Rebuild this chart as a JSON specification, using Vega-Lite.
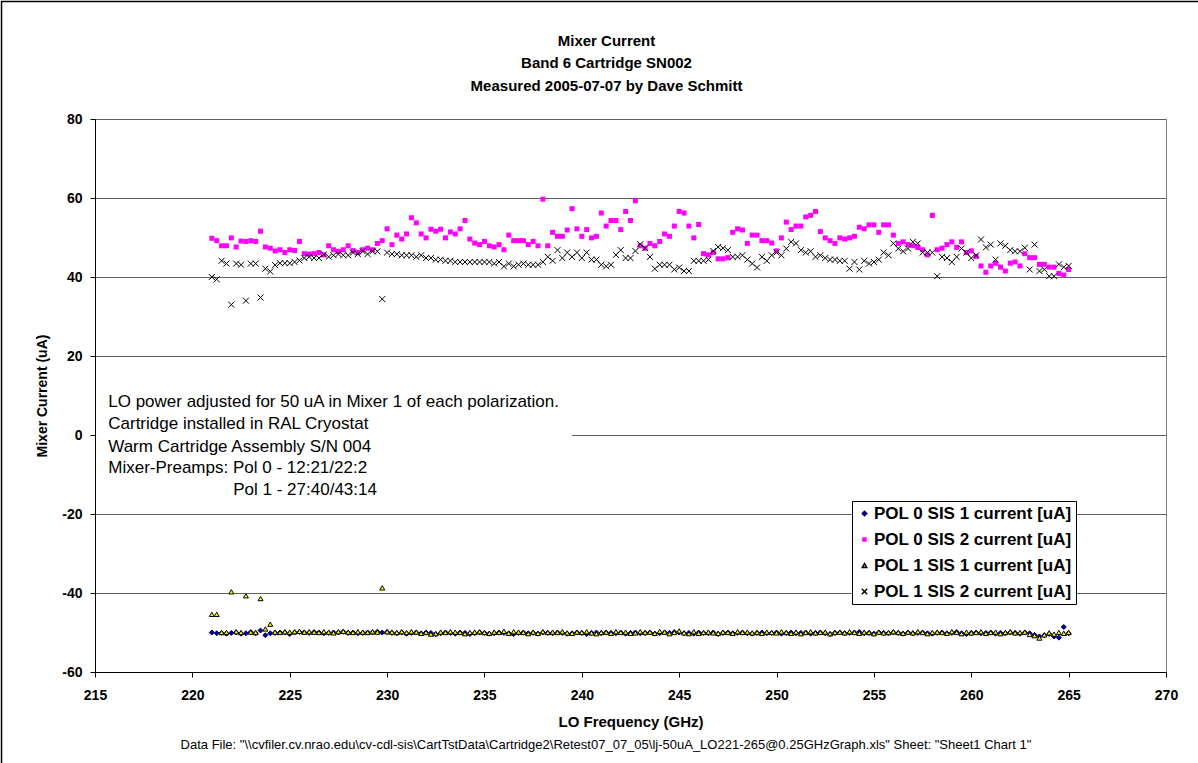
{
"$schema": "https://vega.github.io/schema/vega-lite/v6.json",
"width": 1071,
"height": 553,
"autosize": {"type": "none"},
"padding": {"left": 95, "top": 119, "right": 32, "bottom": 91},
"background": "white",
"config": {"font": "Liberation Sans", "view": {"stroke": "#808080", "strokeWidth": 1}},
"title": {"text": ["Mixer Current", "Band 6 Cartridge SN002", "Measured 2005-07-07 by Dave Schmitt"], "fontSize": 15, "fontWeight": "bold", "lineHeight": 22.5, "anchor": "middle", "frame": "group", "dx": -24, "offset": -93, "color": "black", "font": "Liberation Sans"},
"layer": [
{
"data": {"values": [{}]},
"mark": {"type": "rect", "fill": "white"},
"encoding": {"x": {"datum": 215.06}, "x2": {"datum": 239.5}, "y": {"datum": 12}, "y2": {"datum": -16}}
},
{
"data": {"values": [
{"s":"P0S1","f":221,"v":-50.0},{"s":"P0S1","f":221.25,"v":-50.2},{"s":"P0S1","f":221.5,"v":-50.1},{"s":"P0S1","f":221.75,"v":-50.3},{"s":"P0S1","f":222,"v":-50.1},{"s":"P0S1","f":222.25,"v":-50.0},{"s":"P0S1","f":222.5,"v":-50.3},{"s":"P0S1","f":222.75,"v":-50.2},{"s":"P0S1","f":223,"v":-49.9},{"s":"P0S1","f":223.25,"v":-50.2},
{"s":"P0S1","f":223.5,"v":-49.5},{"s":"P0S1","f":223.75,"v":-50.7},{"s":"P0S1","f":224,"v":-50.2},{"s":"P0S1","f":224.25,"v":-50.1},{"s":"P0S1","f":224.5,"v":-50.0},{"s":"P0S1","f":224.75,"v":-50.0},{"s":"P0S1","f":225,"v":-50.4},{"s":"P0S1","f":225.25,"v":-50.0},{"s":"P0S1","f":225.5,"v":-49.9},{"s":"P0S1","f":225.75,"v":-50.0},
{"s":"P0S1","f":226,"v":-50.1},{"s":"P0S1","f":226.25,"v":-49.9},{"s":"P0S1","f":226.5,"v":-50.0},{"s":"P0S1","f":226.75,"v":-50.2},{"s":"P0S1","f":227,"v":-50.1},{"s":"P0S1","f":227.25,"v":-50.0},{"s":"P0S1","f":227.5,"v":-50.0},{"s":"P0S1","f":227.75,"v":-49.8},{"s":"P0S1","f":228,"v":-50.1},{"s":"P0S1","f":228.25,"v":-50.0},
{"s":"P0S1","f":228.5,"v":-50.2},{"s":"P0S1","f":228.75,"v":-50.1},{"s":"P0S1","f":229,"v":-50.0},{"s":"P0S1","f":229.25,"v":-50.0},{"s":"P0S1","f":229.5,"v":-49.8},{"s":"P0S1","f":229.75,"v":-50.0},{"s":"P0S1","f":230,"v":-49.9},{"s":"P0S1","f":230.25,"v":-50.1},{"s":"P0S1","f":230.5,"v":-50.2},{"s":"P0S1","f":230.75,"v":-50.0},
{"s":"P0S1","f":231,"v":-50.3},{"s":"P0S1","f":231.25,"v":-50.1},{"s":"P0S1","f":231.5,"v":-50.0},{"s":"P0S1","f":231.75,"v":-50.2},{"s":"P0S1","f":232,"v":-50.0},{"s":"P0S1","f":232.25,"v":-50.1},{"s":"P0S1","f":232.5,"v":-50.4},{"s":"P0S1","f":232.75,"v":-50.2},{"s":"P0S1","f":233,"v":-50.0},{"s":"P0S1","f":233.25,"v":-50.1},
{"s":"P0S1","f":233.5,"v":-50.3},{"s":"P0S1","f":233.75,"v":-50.0},{"s":"P0S1","f":234,"v":-50.1},{"s":"P0S1","f":234.25,"v":-50.4},{"s":"P0S1","f":234.5,"v":-50.2},{"s":"P0S1","f":234.75,"v":-50.0},{"s":"P0S1","f":235,"v":-50.1},{"s":"P0S1","f":235.25,"v":-50.3},{"s":"P0S1","f":235.5,"v":-50.2},{"s":"P0S1","f":235.75,"v":-50.0},
{"s":"P0S1","f":236,"v":-50.1},{"s":"P0S1","f":236.25,"v":-50.2},{"s":"P0S1","f":236.5,"v":-50.4},{"s":"P0S1","f":236.75,"v":-50.1},{"s":"P0S1","f":237,"v":-50.0},{"s":"P0S1","f":237.25,"v":-50.2},{"s":"P0S1","f":237.5,"v":-50.1},{"s":"P0S1","f":237.75,"v":-50.3},{"s":"P0S1","f":238,"v":-50.0},{"s":"P0S1","f":238.25,"v":-50.1},
{"s":"P0S1","f":238.5,"v":-50.2},{"s":"P0S1","f":238.75,"v":-50.0},{"s":"P0S1","f":239,"v":-50.1},{"s":"P0S1","f":239.25,"v":-50.3},{"s":"P0S1","f":239.5,"v":-50.2},{"s":"P0S1","f":239.75,"v":-50.0},{"s":"P0S1","f":240,"v":-50.1},{"s":"P0S1","f":240.25,"v":-50.4},{"s":"P0S1","f":240.5,"v":-50.1},{"s":"P0S1","f":240.75,"v":-50.0},
{"s":"P0S1","f":241,"v":-50.2},{"s":"P0S1","f":241.25,"v":-50.0},{"s":"P0S1","f":241.5,"v":-50.1},{"s":"P0S1","f":241.75,"v":-50.2},{"s":"P0S1","f":242,"v":-50.0},{"s":"P0S1","f":242.25,"v":-50.3},{"s":"P0S1","f":242.5,"v":-50.1},{"s":"P0S1","f":242.75,"v":-50.0},{"s":"P0S1","f":243,"v":-50.2},{"s":"P0S1","f":243.25,"v":-50.1},
{"s":"P0S1","f":243.5,"v":-50.0},{"s":"P0S1","f":243.75,"v":-50.3},{"s":"P0S1","f":244,"v":-50.2},{"s":"P0S1","f":244.25,"v":-50.0},{"s":"P0S1","f":244.5,"v":-50.1},{"s":"P0S1","f":244.75,"v":-49.9},{"s":"P0S1","f":245,"v":-50.0},{"s":"P0S1","f":245.25,"v":-50.2},{"s":"P0S1","f":245.5,"v":-50.1},{"s":"P0S1","f":245.75,"v":-50.3},
{"s":"P0S1","f":246,"v":-50.0},{"s":"P0S1","f":246.25,"v":-50.1},{"s":"P0S1","f":246.5,"v":-50.2},{"s":"P0S1","f":246.75,"v":-50.0},{"s":"P0S1","f":247,"v":-50.4},{"s":"P0S1","f":247.25,"v":-50.1},{"s":"P0S1","f":247.5,"v":-50.0},{"s":"P0S1","f":247.75,"v":-50.2},{"s":"P0S1","f":248,"v":-50.1},{"s":"P0S1","f":248.25,"v":-50.0},
{"s":"P0S1","f":248.5,"v":-50.2},{"s":"P0S1","f":248.75,"v":-50.3},{"s":"P0S1","f":249,"v":-50.1},{"s":"P0S1","f":249.25,"v":-50.0},{"s":"P0S1","f":249.5,"v":-50.2},{"s":"P0S1","f":249.75,"v":-50.1},{"s":"P0S1","f":250,"v":-50.0},{"s":"P0S1","f":250.25,"v":-50.3},{"s":"P0S1","f":250.5,"v":-50.1},{"s":"P0S1","f":250.75,"v":-50.0},
{"s":"P0S1","f":251,"v":-50.2},{"s":"P0S1","f":251.25,"v":-50.1},{"s":"P0S1","f":251.5,"v":-50.0},{"s":"P0S1","f":251.75,"v":-50.3},{"s":"P0S1","f":252,"v":-50.1},{"s":"P0S1","f":252.25,"v":-50.0},{"s":"P0S1","f":252.5,"v":-50.2},{"s":"P0S1","f":252.75,"v":-50.4},{"s":"P0S1","f":253,"v":-50.1},{"s":"P0S1","f":253.25,"v":-50.0},
{"s":"P0S1","f":253.5,"v":-50.2},{"s":"P0S1","f":253.75,"v":-50.1},{"s":"P0S1","f":254,"v":-50.0},{"s":"P0S1","f":254.25,"v":-49.9},{"s":"P0S1","f":254.5,"v":-50.2},{"s":"P0S1","f":254.75,"v":-50.1},{"s":"P0S1","f":255,"v":-50.3},{"s":"P0S1","f":255.25,"v":-50.0},{"s":"P0S1","f":255.5,"v":-50.1},{"s":"P0S1","f":255.75,"v":-50.2},
{"s":"P0S1","f":256,"v":-50.0},{"s":"P0S1","f":256.25,"v":-50.1},{"s":"P0S1","f":256.5,"v":-50.3},{"s":"P0S1","f":256.75,"v":-50.0},{"s":"P0S1","f":257,"v":-50.2},{"s":"P0S1","f":257.25,"v":-50.1},{"s":"P0S1","f":257.5,"v":-50.0},{"s":"P0S1","f":257.75,"v":-50.2},{"s":"P0S1","f":258,"v":-50.3},{"s":"P0S1","f":258.25,"v":-50.1},
{"s":"P0S1","f":258.5,"v":-50.0},{"s":"P0S1","f":258.75,"v":-50.2},{"s":"P0S1","f":259,"v":-50.1},{"s":"P0S1","f":259.25,"v":-49.9},{"s":"P0S1","f":259.5,"v":-50.2},{"s":"P0S1","f":259.75,"v":-50.4},{"s":"P0S1","f":260,"v":-50.1},{"s":"P0S1","f":260.25,"v":-50.0},{"s":"P0S1","f":260.5,"v":-50.2},{"s":"P0S1","f":260.75,"v":-50.1},
{"s":"P0S1","f":261,"v":-50.0},{"s":"P0S1","f":261.25,"v":-50.3},{"s":"P0S1","f":261.5,"v":-50.1},{"s":"P0S1","f":261.75,"v":-50.2},{"s":"P0S1","f":262,"v":-50.0},{"s":"P0S1","f":262.25,"v":-50.1},{"s":"P0S1","f":262.5,"v":-50.3},{"s":"P0S1","f":262.75,"v":-50.0},{"s":"P0S1","f":263,"v":-50.2},{"s":"P0S1","f":263.25,"v":-50.6},
{"s":"P0S1","f":263.5,"v":-51.0},{"s":"P0S1","f":263.75,"v":-50.7},{"s":"P0S1","f":264,"v":-50.4},{"s":"P0S1","f":264.25,"v":-51.0},{"s":"P0S1","f":264.5,"v":-51.3},{"s":"P0S1","f":264.75,"v":-48.6},{"s":"P0S1","f":265,"v":-50.2},
{"s":"P0S2","f":221,"v":49.8},{"s":"P0S2","f":221.25,"v":49.2},{"s":"P0S2","f":221.5,"v":47.9},{"s":"P0S2","f":221.75,"v":47.9},{"s":"P0S2","f":222,"v":49.9},{"s":"P0S2","f":222.25,"v":47.6},{"s":"P0S2","f":222.5,"v":49.1},{"s":"P0S2","f":222.75,"v":49.0},{"s":"P0S2","f":223,"v":49.2},{"s":"P0S2","f":223.25,"v":49.0},
{"s":"P0S2","f":223.5,"v":51.6},{"s":"P0S2","f":223.75,"v":47.6},{"s":"P0S2","f":224,"v":47.3},{"s":"P0S2","f":224.25,"v":46.6},{"s":"P0S2","f":224.5,"v":46.9},{"s":"P0S2","f":224.75,"v":46.2},{"s":"P0S2","f":225,"v":46.9},{"s":"P0S2","f":225.25,"v":46.7},{"s":"P0S2","f":225.5,"v":49.0},{"s":"P0S2","f":225.75,"v":45.9},
{"s":"P0S2","f":226,"v":45.8},{"s":"P0S2","f":226.25,"v":45.9},{"s":"P0S2","f":226.5,"v":46.2},{"s":"P0S2","f":226.75,"v":45.6},{"s":"P0S2","f":227,"v":47.9},{"s":"P0S2","f":227.25,"v":46.9},{"s":"P0S2","f":227.5,"v":46.5},{"s":"P0S2","f":227.75,"v":46.9},{"s":"P0S2","f":228,"v":47.9},{"s":"P0S2","f":228.25,"v":46.7},
{"s":"P0S2","f":228.5,"v":46.2},{"s":"P0S2","f":228.75,"v":46.9},{"s":"P0S2","f":229,"v":47.3},{"s":"P0S2","f":229.25,"v":46.9},{"s":"P0S2","f":229.5,"v":48.5},{"s":"P0S2","f":229.75,"v":49.2},{"s":"P0S2","f":230,"v":52.2},{"s":"P0S2","f":230.25,"v":48.2},{"s":"P0S2","f":230.5,"v":50.6},{"s":"P0S2","f":230.75,"v":49.6},
{"s":"P0S2","f":231,"v":50.9},{"s":"P0S2","f":231.25,"v":55.0},{"s":"P0S2","f":231.5,"v":53.7},{"s":"P0S2","f":231.75,"v":50.9},{"s":"P0S2","f":232,"v":49.9},{"s":"P0S2","f":232.25,"v":52.1},{"s":"P0S2","f":232.5,"v":51.6},{"s":"P0S2","f":232.75,"v":52.1},{"s":"P0S2","f":233,"v":49.9},{"s":"P0S2","f":233.25,"v":51.4},
{"s":"P0S2","f":233.5,"v":50.9},{"s":"P0S2","f":233.75,"v":52.2},{"s":"P0S2","f":234,"v":54.3},{"s":"P0S2","f":234.25,"v":49.6},{"s":"P0S2","f":234.5,"v":48.6},{"s":"P0S2","f":234.75,"v":48.2},{"s":"P0S2","f":235,"v":49.0},{"s":"P0S2","f":235.25,"v":47.9},{"s":"P0S2","f":235.5,"v":47.6},{"s":"P0S2","f":235.75,"v":48.2},
{"s":"P0S2","f":236,"v":46.9},{"s":"P0S2","f":236.25,"v":50.6},{"s":"P0S2","f":236.5,"v":49.2},{"s":"P0S2","f":236.75,"v":49.2},{"s":"P0S2","f":237,"v":49.2},{"s":"P0S2","f":237.25,"v":48.2},{"s":"P0S2","f":237.5,"v":49.0},{"s":"P0S2","f":237.75,"v":47.9},{"s":"P0S2","f":238,"v":59.7},{"s":"P0S2","f":238.25,"v":47.9},
{"s":"P0S2","f":238.5,"v":51.3},{"s":"P0S2","f":238.75,"v":50.3},{"s":"P0S2","f":239,"v":50.3},{"s":"P0S2","f":239.25,"v":51.9},{"s":"P0S2","f":239.5,"v":57.3},{"s":"P0S2","f":239.75,"v":52.2},{"s":"P0S2","f":240,"v":50.3},{"s":"P0S2","f":240.25,"v":52.0},{"s":"P0S2","f":240.5,"v":49.9},{"s":"P0S2","f":240.75,"v":50.3},
{"s":"P0S2","f":241,"v":56.2},{"s":"P0S2","f":241.25,"v":52.9},{"s":"P0S2","f":241.5,"v":54.3},{"s":"P0S2","f":241.75,"v":54.3},{"s":"P0S2","f":242,"v":52.0},{"s":"P0S2","f":242.25,"v":56.6},{"s":"P0S2","f":242.5,"v":54.3},{"s":"P0S2","f":242.75,"v":59.3},{"s":"P0S2","f":243,"v":47.9},{"s":"P0S2","f":243.25,"v":47.3},
{"s":"P0S2","f":243.5,"v":48.5},{"s":"P0S2","f":243.75,"v":47.9},{"s":"P0S2","f":244,"v":49.0},{"s":"P0S2","f":244.25,"v":50.9},{"s":"P0S2","f":244.5,"v":50.3},{"s":"P0S2","f":244.75,"v":52.9},{"s":"P0S2","f":245,"v":56.6},{"s":"P0S2","f":245.25,"v":56.2},{"s":"P0S2","f":245.5,"v":52.9},{"s":"P0S2","f":245.75,"v":49.9},
{"s":"P0S2","f":246,"v":53.3},{"s":"P0S2","f":246.25,"v":45.9},{"s":"P0S2","f":246.5,"v":45.6},{"s":"P0S2","f":246.75,"v":46.2},{"s":"P0S2","f":247,"v":44.6},{"s":"P0S2","f":247.25,"v":44.6},{"s":"P0S2","f":247.5,"v":44.9},{"s":"P0S2","f":247.75,"v":51.3},{"s":"P0S2","f":248,"v":52.2},{"s":"P0S2","f":248.25,"v":51.9},
{"s":"P0S2","f":248.5,"v":48.5},{"s":"P0S2","f":248.75,"v":50.6},{"s":"P0S2","f":249,"v":50.6},{"s":"P0S2","f":249.25,"v":49.2},{"s":"P0S2","f":249.5,"v":49.2},{"s":"P0S2","f":249.75,"v":48.6},{"s":"P0S2","f":250,"v":46.6},{"s":"P0S2","f":250.25,"v":49.9},{"s":"P0S2","f":250.5,"v":53.9},{"s":"P0S2","f":250.75,"v":52.0},
{"s":"P0S2","f":251,"v":52.9},{"s":"P0S2","f":251.25,"v":52.9},{"s":"P0S2","f":251.5,"v":55.2},{"s":"P0S2","f":251.75,"v":55.6},{"s":"P0S2","f":252,"v":56.6},{"s":"P0S2","f":252.25,"v":51.5},{"s":"P0S2","f":252.5,"v":49.9},{"s":"P0S2","f":252.75,"v":49.2},{"s":"P0S2","f":253,"v":48.5},{"s":"P0S2","f":253.25,"v":49.9},
{"s":"P0S2","f":253.5,"v":49.6},{"s":"P0S2","f":253.75,"v":49.9},{"s":"P0S2","f":254,"v":50.3},{"s":"P0S2","f":254.25,"v":52.6},{"s":"P0S2","f":254.5,"v":52.2},{"s":"P0S2","f":254.75,"v":53.2},{"s":"P0S2","f":255,"v":53.2},{"s":"P0S2","f":255.25,"v":51.3},{"s":"P0S2","f":255.5,"v":53.2},{"s":"P0S2","f":255.75,"v":53.2},
{"s":"P0S2","f":256,"v":50.6},{"s":"P0S2","f":256.25,"v":48.5},{"s":"P0S2","f":256.5,"v":48.9},{"s":"P0S2","f":256.75,"v":48.2},{"s":"P0S2","f":257,"v":47.9},{"s":"P0S2","f":257.25,"v":47.5},{"s":"P0S2","f":257.5,"v":46.9},{"s":"P0S2","f":257.75,"v":45.6},{"s":"P0S2","f":258,"v":55.6},{"s":"P0S2","f":258.25,"v":46.9},
{"s":"P0S2","f":258.5,"v":47.3},{"s":"P0S2","f":258.75,"v":48.2},{"s":"P0S2","f":259,"v":48.9},{"s":"P0S2","f":259.25,"v":47.5},{"s":"P0S2","f":259.5,"v":48.9},{"s":"P0S2","f":259.75,"v":46.2},{"s":"P0S2","f":260,"v":46.6},{"s":"P0S2","f":260.25,"v":45.2},{"s":"P0S2","f":260.5,"v":42.8},{"s":"P0S2","f":260.75,"v":41.2},
{"s":"P0S2","f":261,"v":42.8},{"s":"P0S2","f":261.25,"v":43.5},{"s":"P0S2","f":261.5,"v":42.5},{"s":"P0S2","f":261.75,"v":41.5},{"s":"P0S2","f":262,"v":43.5},{"s":"P0S2","f":262.25,"v":43.8},{"s":"P0S2","f":262.5,"v":42.8},{"s":"P0S2","f":262.75,"v":45.9},{"s":"P0S2","f":263,"v":44.9},{"s":"P0S2","f":263.25,"v":44.9},
{"s":"P0S2","f":263.5,"v":43.2},{"s":"P0S2","f":263.75,"v":43.2},{"s":"P0S2","f":264,"v":42.5},{"s":"P0S2","f":264.25,"v":42.5},{"s":"P0S2","f":264.5,"v":40.9},{"s":"P0S2","f":264.75,"v":40.5},{"s":"P0S2","f":265,"v":41.9},
{"s":"P1S1","f":221,"v":-45.4},{"s":"P1S1","f":221.25,"v":-45.4},{"s":"P1S1","f":221.5,"v":-50.0},{"s":"P1S1","f":221.75,"v":-50.0},{"s":"P1S1","f":222,"v":-39.7},{"s":"P1S1","f":222.25,"v":-49.8},{"s":"P1S1","f":222.5,"v":-50.0},{"s":"P1S1","f":222.75,"v":-40.7},{"s":"P1S1","f":223,"v":-49.9},{"s":"P1S1","f":223.25,"v":-50.0},
{"s":"P1S1","f":223.5,"v":-41.4},{"s":"P1S1","f":223.75,"v":-49.1},{"s":"P1S1","f":224,"v":-47.9},{"s":"P1S1","f":224.25,"v":-49.9},{"s":"P1S1","f":224.5,"v":-50.0},{"s":"P1S1","f":224.75,"v":-49.8},{"s":"P1S1","f":225,"v":-49.9},{"s":"P1S1","f":225.25,"v":-49.8},{"s":"P1S1","f":225.5,"v":-49.7},{"s":"P1S1","f":225.75,"v":-49.9},
{"s":"P1S1","f":226,"v":-49.8},{"s":"P1S1","f":226.25,"v":-49.9},{"s":"P1S1","f":226.5,"v":-50.0},{"s":"P1S1","f":226.75,"v":-49.8},{"s":"P1S1","f":227,"v":-49.9},{"s":"P1S1","f":227.25,"v":-50.1},{"s":"P1S1","f":227.5,"v":-49.8},{"s":"P1S1","f":227.75,"v":-49.7},{"s":"P1S1","f":228,"v":-49.9},{"s":"P1S1","f":228.25,"v":-50.0},
{"s":"P1S1","f":228.5,"v":-49.8},{"s":"P1S1","f":228.75,"v":-49.9},{"s":"P1S1","f":229,"v":-50.0},{"s":"P1S1","f":229.25,"v":-49.8},{"s":"P1S1","f":229.5,"v":-49.9},{"s":"P1S1","f":229.75,"v":-38.7},{"s":"P1S1","f":230,"v":-49.8},{"s":"P1S1","f":230.25,"v":-49.9},{"s":"P1S1","f":230.5,"v":-50.0},{"s":"P1S1","f":230.75,"v":-49.8},
{"s":"P1S1","f":231,"v":-50.0},{"s":"P1S1","f":231.25,"v":-49.8},{"s":"P1S1","f":231.5,"v":-49.9},{"s":"P1S1","f":231.75,"v":-50.2},{"s":"P1S1","f":232,"v":-50.0},{"s":"P1S1","f":232.25,"v":-50.4},{"s":"P1S1","f":232.5,"v":-50.3},{"s":"P1S1","f":232.75,"v":-49.9},{"s":"P1S1","f":233,"v":-50.0},{"s":"P1S1","f":233.25,"v":-49.8},
{"s":"P1S1","f":233.5,"v":-49.9},{"s":"P1S1","f":233.75,"v":-50.0},{"s":"P1S1","f":234,"v":-50.3},{"s":"P1S1","f":234.25,"v":-50.0},{"s":"P1S1","f":234.5,"v":-49.9},{"s":"P1S1","f":234.75,"v":-49.8},{"s":"P1S1","f":235,"v":-50.0},{"s":"P1S1","f":235.25,"v":-50.2},{"s":"P1S1","f":235.5,"v":-49.9},{"s":"P1S1","f":235.75,"v":-50.0},
{"s":"P1S1","f":236,"v":-49.7},{"s":"P1S1","f":236.25,"v":-50.2},{"s":"P1S1","f":236.5,"v":-49.8},{"s":"P1S1","f":236.75,"v":-49.9},{"s":"P1S1","f":237,"v":-50.0},{"s":"P1S1","f":237.25,"v":-50.3},{"s":"P1S1","f":237.5,"v":-49.9},{"s":"P1S1","f":237.75,"v":-50.2},{"s":"P1S1","f":238,"v":-49.8},{"s":"P1S1","f":238.25,"v":-50.0},
{"s":"P1S1","f":238.5,"v":-49.9},{"s":"P1S1","f":238.75,"v":-50.0},{"s":"P1S1","f":239,"v":-49.8},{"s":"P1S1","f":239.25,"v":-50.1},{"s":"P1S1","f":239.5,"v":-50.2},{"s":"P1S1","f":239.75,"v":-49.9},{"s":"P1S1","f":240,"v":-50.0},{"s":"P1S1","f":240.25,"v":-49.8},{"s":"P1S1","f":240.5,"v":-50.1},{"s":"P1S1","f":240.75,"v":-50.3},
{"s":"P1S1","f":241,"v":-50.0},{"s":"P1S1","f":241.25,"v":-49.9},{"s":"P1S1","f":241.5,"v":-50.2},{"s":"P1S1","f":241.75,"v":-49.8},{"s":"P1S1","f":242,"v":-50.0},{"s":"P1S1","f":242.25,"v":-49.9},{"s":"P1S1","f":242.5,"v":-50.2},{"s":"P1S1","f":242.75,"v":-50.1},{"s":"P1S1","f":243,"v":-49.8},{"s":"P1S1","f":243.25,"v":-50.0},
{"s":"P1S1","f":243.5,"v":-49.9},{"s":"P1S1","f":243.75,"v":-50.2},{"s":"P1S1","f":244,"v":-49.7},{"s":"P1S1","f":244.25,"v":-49.9},{"s":"P1S1","f":244.5,"v":-50.3},{"s":"P1S1","f":244.75,"v":-50.0},{"s":"P1S1","f":245,"v":-49.6},{"s":"P1S1","f":245.25,"v":-50.1},{"s":"P1S1","f":245.5,"v":-50.3},{"s":"P1S1","f":245.75,"v":-49.8},
{"s":"P1S1","f":246,"v":-50.2},{"s":"P1S1","f":246.25,"v":-50.0},{"s":"P1S1","f":246.5,"v":-49.9},{"s":"P1S1","f":246.75,"v":-50.1},{"s":"P1S1","f":247,"v":-50.2},{"s":"P1S1","f":247.25,"v":-49.9},{"s":"P1S1","f":247.5,"v":-50.0},{"s":"P1S1","f":247.75,"v":-50.2},{"s":"P1S1","f":248,"v":-49.8},{"s":"P1S1","f":248.25,"v":-50.0},
{"s":"P1S1","f":248.5,"v":-49.9},{"s":"P1S1","f":248.75,"v":-50.1},{"s":"P1S1","f":249,"v":-50.0},{"s":"P1S1","f":249.25,"v":-50.2},{"s":"P1S1","f":249.5,"v":-49.9},{"s":"P1S1","f":249.75,"v":-50.0},{"s":"P1S1","f":250,"v":-50.1},{"s":"P1S1","f":250.25,"v":-49.8},{"s":"P1S1","f":250.5,"v":-50.0},{"s":"P1S1","f":250.75,"v":-50.2},
{"s":"P1S1","f":251,"v":-49.9},{"s":"P1S1","f":251.25,"v":-50.3},{"s":"P1S1","f":251.5,"v":-50.0},{"s":"P1S1","f":251.75,"v":-49.8},{"s":"P1S1","f":252,"v":-50.1},{"s":"P1S1","f":252.25,"v":-50.0},{"s":"P1S1","f":252.5,"v":-49.9},{"s":"P1S1","f":252.75,"v":-50.3},{"s":"P1S1","f":253,"v":-50.0},{"s":"P1S1","f":253.25,"v":-49.9},
{"s":"P1S1","f":253.5,"v":-50.1},{"s":"P1S1","f":253.75,"v":-49.8},{"s":"P1S1","f":254,"v":-50.0},{"s":"P1S1","f":254.25,"v":-50.2},{"s":"P1S1","f":254.5,"v":-49.9},{"s":"P1S1","f":254.75,"v":-50.0},{"s":"P1S1","f":255,"v":-50.3},{"s":"P1S1","f":255.25,"v":-49.9},{"s":"P1S1","f":255.5,"v":-50.1},{"s":"P1S1","f":255.75,"v":-50.0},
{"s":"P1S1","f":256,"v":-49.8},{"s":"P1S1","f":256.25,"v":-50.0},{"s":"P1S1","f":256.5,"v":-50.2},{"s":"P1S1","f":256.75,"v":-49.9},{"s":"P1S1","f":257,"v":-50.1},{"s":"P1S1","f":257.25,"v":-49.8},{"s":"P1S1","f":257.5,"v":-50.0},{"s":"P1S1","f":257.75,"v":-50.3},{"s":"P1S1","f":258,"v":-50.0},{"s":"P1S1","f":258.25,"v":-49.9},
{"s":"P1S1","f":258.5,"v":-50.0},{"s":"P1S1","f":258.75,"v":-50.2},{"s":"P1S1","f":259,"v":-49.8},{"s":"P1S1","f":259.25,"v":-50.0},{"s":"P1S1","f":259.5,"v":-50.3},{"s":"P1S1","f":259.75,"v":-49.9},{"s":"P1S1","f":260,"v":-50.1},{"s":"P1S1","f":260.25,"v":-50.0},{"s":"P1S1","f":260.5,"v":-49.8},{"s":"P1S1","f":260.75,"v":-50.2},
{"s":"P1S1","f":261,"v":-50.0},{"s":"P1S1","f":261.25,"v":-49.9},{"s":"P1S1","f":261.5,"v":-50.3},{"s":"P1S1","f":261.75,"v":-50.0},{"s":"P1S1","f":262,"v":-49.8},{"s":"P1S1","f":262.25,"v":-50.1},{"s":"P1S1","f":262.5,"v":-50.0},{"s":"P1S1","f":262.75,"v":-49.9},{"s":"P1S1","f":263,"v":-50.5},{"s":"P1S1","f":263.25,"v":-50.8},
{"s":"P1S1","f":263.5,"v":-51.4},{"s":"P1S1","f":263.75,"v":-50.6},{"s":"P1S1","f":264,"v":-50.1},{"s":"P1S1","f":264.25,"v":-50.4},{"s":"P1S1","f":264.5,"v":-50.0},{"s":"P1S1","f":264.75,"v":-50.2},{"s":"P1S1","f":265,"v":-50.0},
{"s":"P1S2","f":221,"v":40.0},{"s":"P1S2","f":221.25,"v":39.4},{"s":"P1S2","f":221.5,"v":44.1},{"s":"P1S2","f":221.75,"v":43.4},{"s":"P1S2","f":222,"v":33.0},{"s":"P1S2","f":222.25,"v":43.4},{"s":"P1S2","f":222.5,"v":43.1},{"s":"P1S2","f":222.75,"v":34.0},{"s":"P1S2","f":223,"v":43.4},{"s":"P1S2","f":223.25,"v":43.4},
{"s":"P1S2","f":223.5,"v":34.8},{"s":"P1S2","f":223.75,"v":42.1},{"s":"P1S2","f":224,"v":41.4},{"s":"P1S2","f":224.25,"v":43.0},{"s":"P1S2","f":224.5,"v":43.5},{"s":"P1S2","f":224.75,"v":43.5},{"s":"P1S2","f":225,"v":43.5},{"s":"P1S2","f":225.25,"v":43.8},{"s":"P1S2","f":225.5,"v":44.2},{"s":"P1S2","f":225.75,"v":44.8},
{"s":"P1S2","f":226,"v":45.1},{"s":"P1S2","f":226.25,"v":44.8},{"s":"P1S2","f":226.5,"v":44.8},{"s":"P1S2","f":226.75,"v":45.7},{"s":"P1S2","f":227,"v":45.1},{"s":"P1S2","f":227.25,"v":45.5},{"s":"P1S2","f":227.5,"v":45.8},{"s":"P1S2","f":227.75,"v":45.5},{"s":"P1S2","f":228,"v":45.5},{"s":"P1S2","f":228.25,"v":46.2},
{"s":"P1S2","f":228.5,"v":45.8},{"s":"P1S2","f":228.75,"v":46.5},{"s":"P1S2","f":229,"v":45.8},{"s":"P1S2","f":229.25,"v":46.5},{"s":"P1S2","f":229.5,"v":46.5},{"s":"P1S2","f":229.75,"v":34.4},{"s":"P1S2","f":230,"v":46.2},{"s":"P1S2","f":230.25,"v":45.8},{"s":"P1S2","f":230.5,"v":45.8},{"s":"P1S2","f":230.75,"v":45.5},
{"s":"P1S2","f":231,"v":45.5},{"s":"P1S2","f":231.25,"v":45.5},{"s":"P1S2","f":231.5,"v":45.1},{"s":"P1S2","f":231.75,"v":45.5},{"s":"P1S2","f":232,"v":44.8},{"s":"P1S2","f":232.25,"v":44.8},{"s":"P1S2","f":232.5,"v":44.4},{"s":"P1S2","f":232.75,"v":44.4},{"s":"P1S2","f":233,"v":44.1},{"s":"P1S2","f":233.25,"v":44.1},
{"s":"P1S2","f":233.5,"v":43.8},{"s":"P1S2","f":233.75,"v":43.8},{"s":"P1S2","f":234,"v":43.8},{"s":"P1S2","f":234.25,"v":43.8},{"s":"P1S2","f":234.5,"v":43.8},{"s":"P1S2","f":234.75,"v":43.8},{"s":"P1S2","f":235,"v":43.8},{"s":"P1S2","f":235.25,"v":43.8},{"s":"P1S2","f":235.5,"v":43.4},{"s":"P1S2","f":235.75,"v":43.8},
{"s":"P1S2","f":236,"v":42.7},{"s":"P1S2","f":236.25,"v":43.4},{"s":"P1S2","f":236.5,"v":42.7},{"s":"P1S2","f":236.75,"v":43.1},{"s":"P1S2","f":237,"v":43.4},{"s":"P1S2","f":237.25,"v":43.1},{"s":"P1S2","f":237.5,"v":43.1},{"s":"P1S2","f":237.75,"v":43.1},{"s":"P1S2","f":238,"v":43.8},{"s":"P1S2","f":238.25,"v":45.1},
{"s":"P1S2","f":238.5,"v":44.1},{"s":"P1S2","f":238.75,"v":46.8},{"s":"P1S2","f":239,"v":44.8},{"s":"P1S2","f":239.25,"v":46.2},{"s":"P1S2","f":239.5,"v":45.1},{"s":"P1S2","f":239.75,"v":46.2},{"s":"P1S2","f":240,"v":44.8},{"s":"P1S2","f":240.25,"v":46.2},{"s":"P1S2","f":240.5,"v":44.4},{"s":"P1S2","f":240.75,"v":44.4},
{"s":"P1S2","f":241,"v":43.1},{"s":"P1S2","f":241.25,"v":42.7},{"s":"P1S2","f":241.5,"v":43.1},{"s":"P1S2","f":241.75,"v":45.6},{"s":"P1S2","f":242,"v":46.8},{"s":"P1S2","f":242.25,"v":44.8},{"s":"P1S2","f":242.5,"v":44.8},{"s":"P1S2","f":242.75,"v":46.6},{"s":"P1S2","f":243,"v":48.3},{"s":"P1S2","f":243.25,"v":47.3},
{"s":"P1S2","f":243.5,"v":45.1},{"s":"P1S2","f":243.75,"v":42.1},{"s":"P1S2","f":244,"v":43.1},{"s":"P1S2","f":244.25,"v":43.1},{"s":"P1S2","f":244.5,"v":43.1},{"s":"P1S2","f":244.75,"v":41.9},{"s":"P1S2","f":245,"v":42.4},{"s":"P1S2","f":245.25,"v":41.5},{"s":"P1S2","f":245.5,"v":41.5},{"s":"P1S2","f":245.75,"v":44.1},
{"s":"P1S2","f":246,"v":44.1},{"s":"P1S2","f":246.25,"v":44.1},{"s":"P1S2","f":246.5,"v":44.4},{"s":"P1S2","f":246.75,"v":46.6},{"s":"P1S2","f":247,"v":47.6},{"s":"P1S2","f":247.25,"v":47.3},{"s":"P1S2","f":247.5,"v":46.8},{"s":"P1S2","f":247.75,"v":45.1},{"s":"P1S2","f":248,"v":45.1},{"s":"P1S2","f":248.25,"v":45.5},
{"s":"P1S2","f":248.5,"v":44.4},{"s":"P1S2","f":248.75,"v":43.4},{"s":"P1S2","f":249,"v":42.4},{"s":"P1S2","f":249.25,"v":45.1},{"s":"P1S2","f":249.5,"v":44.1},{"s":"P1S2","f":249.75,"v":45.5},{"s":"P1S2","f":250,"v":46.2},{"s":"P1S2","f":250.25,"v":45.5},{"s":"P1S2","f":250.5,"v":47.2},{"s":"P1S2","f":250.75,"v":48.9},
{"s":"P1S2","f":251,"v":48.5},{"s":"P1S2","f":251.25,"v":46.8},{"s":"P1S2","f":251.5,"v":46.2},{"s":"P1S2","f":251.75,"v":46.5},{"s":"P1S2","f":252,"v":45.1},{"s":"P1S2","f":252.25,"v":45.5},{"s":"P1S2","f":252.5,"v":44.8},{"s":"P1S2","f":252.75,"v":44.4},{"s":"P1S2","f":253,"v":44.4},{"s":"P1S2","f":253.25,"v":44.1},
{"s":"P1S2","f":253.5,"v":44.1},{"s":"P1S2","f":253.75,"v":42.1},{"s":"P1S2","f":254,"v":43.8},{"s":"P1S2","f":254.25,"v":41.9},{"s":"P1S2","f":254.5,"v":44.1},{"s":"P1S2","f":254.75,"v":43.4},{"s":"P1S2","f":255,"v":43.8},{"s":"P1S2","f":255.25,"v":44.4},{"s":"P1S2","f":255.5,"v":46.2},{"s":"P1S2","f":255.75,"v":45.5},
{"s":"P1S2","f":256,"v":48.5},{"s":"P1S2","f":256.25,"v":47.2},{"s":"P1S2","f":256.5,"v":46.5},{"s":"P1S2","f":256.75,"v":47.2},{"s":"P1S2","f":257,"v":48.9},{"s":"P1S2","f":257.25,"v":48.5},{"s":"P1S2","f":257.5,"v":46.2},{"s":"P1S2","f":257.75,"v":46.2},{"s":"P1S2","f":258,"v":46.2},{"s":"P1S2","f":258.25,"v":40.2},
{"s":"P1S2","f":258.5,"v":45.1},{"s":"P1S2","f":258.75,"v":44.8},{"s":"P1S2","f":259,"v":43.8},{"s":"P1S2","f":259.25,"v":45.1},{"s":"P1S2","f":259.5,"v":47.2},{"s":"P1S2","f":259.75,"v":46.2},{"s":"P1S2","f":260,"v":44.8},{"s":"P1S2","f":260.25,"v":45.5},{"s":"P1S2","f":260.5,"v":49.5},{"s":"P1S2","f":260.75,"v":47.5},
{"s":"P1S2","f":261,"v":48.2},{"s":"P1S2","f":261.25,"v":44.4},{"s":"P1S2","f":261.5,"v":48.5},{"s":"P1S2","f":261.75,"v":47.9},{"s":"P1S2","f":262,"v":46.8},{"s":"P1S2","f":262.25,"v":46.5},{"s":"P1S2","f":262.5,"v":46.5},{"s":"P1S2","f":262.75,"v":47.4},{"s":"P1S2","f":263,"v":41.9},{"s":"P1S2","f":263.25,"v":48.2},
{"s":"P1S2","f":263.5,"v":41.5},{"s":"P1S2","f":263.75,"v":41.9},{"s":"P1S2","f":264,"v":40.2},{"s":"P1S2","f":264.25,"v":40.2},{"s":"P1S2","f":264.5,"v":43.2},{"s":"P1S2","f":264.75,"v":42.5},{"s":"P1S2","f":265,"v":42.8}
]},
"mark": {"type": "point", "size": 25, "strokeWidth": 1, "opacity": 1},
"encoding": {
"x": {"field": "f", "type": "quantitative", "scale": {"domain": [215, 270], "nice": false, "zero": false},
 "axis": {"title": "LO Frequency (GHz)", "values": [215,220,225,230,235,240,245,250,255,260,265,270], "grid": false, "domainColor": "black", "tickColor": "black", "tickSize": 5, "labelFontSize": 14, "labelFontWeight": "bold", "labelColor": "black", "labelPadding": 11, "labelFlush": false, "labelOverlap": false, "titleFontSize": 15, "titleFontWeight": "bold", "titleColor": "black", "titlePadding": 12}},
"y": {"field": "v", "type": "quantitative", "scale": {"domain": [-60, 80], "nice": false, "zero": false},
 "axis": {"title": "Mixer Current (uA)", "values": [-60,-40,-20,0,20,40,60,80], "labelExpr": "'' + datum.value", "grid": true, "gridColor": "#606060", "gridWidth": 1, "domainColor": "black", "tickColor": "black", "tickSize": 5, "labelFontSize": 14, "labelFontWeight": "bold", "labelColor": "black", "labelPadding": 8, "titleFontSize": 14, "titleFontWeight": "bold", "titleColor": "black", "titlePadding": 12}},
"shape": {"field": "s", "type": "nominal", "scale": {"domain": ["P0S1","P0S2","P1S1","P1S2"], "range": ["diamond","square","triangle-up","M-1.2,-1.2L1.2,1.2M-1.2,1.2L1.2,-1.2"]},
 "legend": {"title": null, "orient": "none", "legendX": 757, "legendY": 382, "fillColor": "white", "strokeColor": "black", "padding": 4, "labelFontSize": 17, "labelFontWeight": "bold", "labelColor": "black", "labelLimit": 400, "symbolSize": 20, "rowPadding": 8, "labelOffset": 1, "labelExpr": "'POL ' + slice(datum.label, 1, 2) + ' SIS ' + slice(datum.label, 3, 4) + ' current [uA]'"}},
"fill": {"field": "s", "type": "nominal", "scale": {"domain": ["P0S1","P0S2","P1S1","P1S2"], "range": ["#000080","#FF00FF","#FFFF00","transparent"]},
 "legend": {"title": null, "orient": "none", "legendX": 757, "legendY": 382, "fillColor": "white", "strokeColor": "black", "padding": 4, "labelFontSize": 17, "labelFontWeight": "bold", "labelColor": "black", "labelLimit": 400, "symbolSize": 20, "rowPadding": 8, "labelOffset": 1, "labelExpr": "'POL ' + slice(datum.label, 1, 2) + ' SIS ' + slice(datum.label, 3, 4) + ' current [uA]'"}},
"stroke": {"field": "s", "type": "nominal", "scale": {"domain": ["P0S1","P0S2","P1S1","P1S2"], "range": ["#000080","transparent","#000000","#000000"]},
 "legend": {"title": null, "orient": "none", "legendX": 757, "legendY": 382, "fillColor": "white", "strokeColor": "black", "padding": 4, "labelFontSize": 17, "labelFontWeight": "bold", "labelColor": "black", "labelLimit": 400, "symbolSize": 20, "rowPadding": 8, "labelOffset": 1, "labelExpr": "'POL ' + slice(datum.label, 1, 2) + ' SIS ' + slice(datum.label, 3, 4) + ' current [uA]'"}}
}
},
{
"data": {"values": [{}]},
"mark": {"type": "text", "align": "left", "baseline": "middle", "fontSize": 17, "color": "black", "text": "LO power adjusted for 50 uA in Mixer 1 of each polarization."},
"encoding": {"x": {"datum": 215.68}, "y": {"datum": 8.43}}
},
{
"data": {"values": [{}]},
"mark": {"type": "text", "align": "left", "baseline": "middle", "fontSize": 17, "color": "black", "text": "Cartridge installed in RAL Cryostat"},
"encoding": {"x": {"datum": 215.68}, "y": {"datum": 2.71}}
},
{
"data": {"values": [{}]},
"mark": {"type": "text", "align": "left", "baseline": "middle", "fontSize": 17, "color": "black", "text": "Warm Cartridge Assembly S/N 004"},
"encoding": {"x": {"datum": 215.68}, "y": {"datum": -2.96}}
},
{
"data": {"values": [{}]},
"mark": {"type": "text", "align": "left", "baseline": "middle", "fontSize": 17, "color": "black", "text": "Mixer-Preamps: Pol 0 - 12:21/22:2"},
"encoding": {"x": {"datum": 215.68}, "y": {"datum": -8.43}}
},
{
"data": {"values": [{}]},
"mark": {"type": "text", "align": "left", "baseline": "middle", "fontSize": 17, "color": "black", "text": "Pol 1 - 27:40/43:14"},
"encoding": {"x": {"datum": 222.1}, "y": {"datum": -13.92}}
},
{
"data": {"values": [{}]},
"mark": {"type": "text", "align": "center", "baseline": "middle", "fontSize": 13, "color": "black", "text": "Data File: \"\\\\cvfiler.cv.nrao.edu\\cv-cdl-sis\\CartTstData\\Cartridge2\\Retest07_07_05\\lj-50uA_LO221-265@0.25GHzGraph.xls\"  Sheet: \"Sheet1 Chart 1\""},
"encoding": {"x": {"datum": 241.24}, "y": {"datum": -78.5}}
},
{
"data": {"values": [{}]},
"mark": {"type": "rect", "filled": false, "stroke": "black", "strokeWidth": 1.5},
"encoding": {"x": {"datum": 210.2}, "x2": {"datum": 400}, "y": {"datum": 109.75}, "y2": {"datum": -300}}
}
]
}
